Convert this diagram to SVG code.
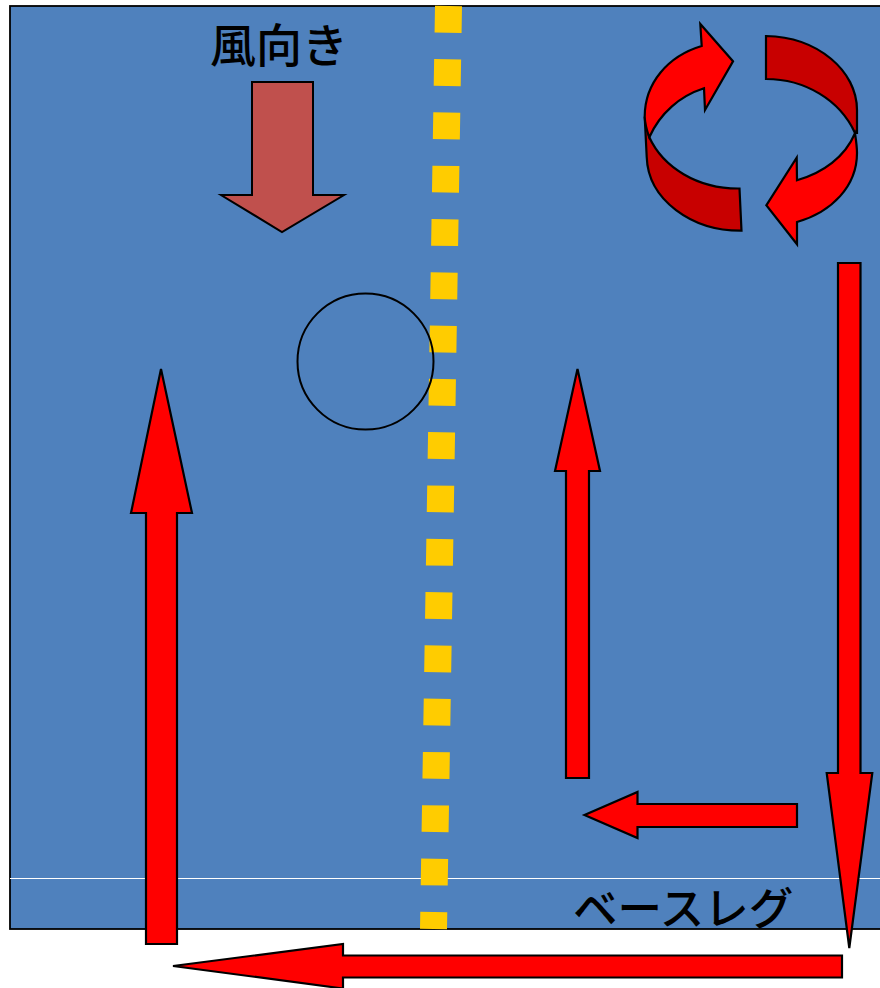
<svg xmlns="http://www.w3.org/2000/svg" width="880" height="988" viewBox="0 0 880 988">
<style>
.red{fill:#ff0000;stroke:#000;stroke-width:2.2;stroke-linejoin:miter}
.dark{fill:#c80000;stroke:#000;stroke-width:2.2;stroke-linejoin:miter}
.label{font-family:"Noto Sans CJK JP","Liberation Sans",sans-serif;fill:#000;font-weight:500}
</style>
<rect width="880" height="988" fill="#fff"/>
<g id="field">
<rect x="10" y="6" width="880" height="923" fill="#4f81bd" stroke="#000" stroke-width="1.8"/>
<line x1="10" y1="878.5" x2="880" y2="878.5" stroke="#fff" stroke-width="1"/>
</g>
<g id="centerline">
<line x1="448.5" y1="6" x2="433.5" y2="929" stroke="#ffcc00" stroke-width="27" stroke-dasharray="26.7 26.6"/>
</g>
<g id="mark"><circle cx="365.5" cy="361.5" r="68" fill="none" stroke="#000" stroke-width="2"/></g>
<g id="wind">
<path d="M252 82H313V195H344L282 232L221 195H252Z" fill="#c0504d" stroke="#000" stroke-width="2"/>
<text class="label" x="210" y="62" font-size="46">風向き</text>
</g>
<g id="rotation">
<path class="dark" d="M766 36C818 37 857 71 857 110V133L855 133C840 100 805 79 766 79Z"/>
<path class="dark" d="M739.5 188.5C697 189 663 167 649.3 137.3L644.7 116.7L646.7 156.7C648 200 692 231 741.5 230.7Z"/>
<path class="red" d="M733 61.3L700.3 24L701.7 46C668 56 644.7 83 644.7 116.7C645 124 647 131 649.3 137.3C660 113 680 96 704 88.3L705 110Z"/>
<path class="red" d="M766.3 205.3L796.7 157.7L797 180.3C823 173 845 157 855 133.3C856 140 857 146 857 153C857 186 832 212 797 222L797 244.3Z"/>
</g>
<g id="connectors">
<path class="red" d="M838 263H860.5V773H872.3L849.3 948L826.7 773H838Z"/>
<path class="red" d="M842 955.5V977.5H343V988.5L173 966L343 944V955.5Z"/>
<path class="red" d="M797 804V827H637.5V838L584.5 815L637.5 792V804Z"/>
<path class="red" d="M566 778V471H555L577.5 369L600 471H589V778Z"/>
<path class="red" d="M146 944V513H131L161 369L192 513H177V944Z"/>
</g>
<g id="base-leg"><text class="label" x="573" y="925" font-size="44.5" font-weight="700">ベースレグ</text></g>
</svg>
